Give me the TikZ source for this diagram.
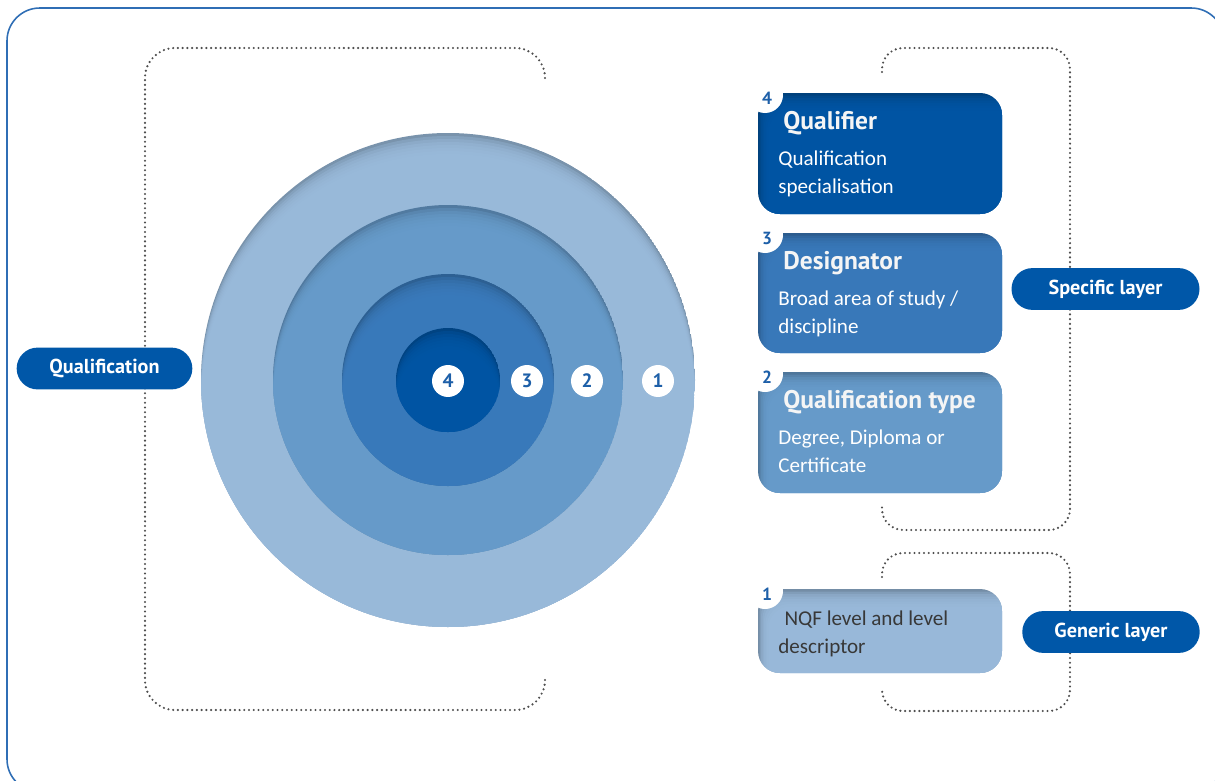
\documentclass[tikz,border=0pt]{standalone}
\usepackage{fontspec}
\setmainfont{Carlito}
\newfontfamily\headfont{PT Sans}
\usepackage{tikz}

\definecolor{ringA}{HTML}{9BBCDD}
\definecolor{ringB}{HTML}{689DCD}
\definecolor{ringC}{HTML}{3A7BBD}
\definecolor{ringD}{HTML}{0056A6}
\definecolor{pillblue}{HTML}{0057A8}
\definecolor{numblue}{HTML}{1D5FA8}
\definecolor{frameblue}{HTML}{2F6EB5}
\definecolor{dotgray}{HTML}{4E4E4E}

% disc with a soft shadow along its top edge: centre, radius, colour
\newcommand{\ringdisc}[3]{%
  \begin{scope}
    \clip #1 circle [radius=#2];
    \fill[#3!78!black] #1 circle [radius=#2];
    \foreach \k in {1,...,7}
      \fill[#3, opacity=0.35, shift={(0,3*\k)}] #1 circle [radius=#2];
  \end{scope}}

% one layer box on the right: top, bottom, colour
\newcommand{\layerbox}[3]{%
  \begin{scope}
    \clip[rounded corners=12.5pt] (758,#1) rectangle (1002,#2);
    \fill[#3!75!black] (758,#1) rectangle (1002,#2);
    \foreach \k in {1,...,7}
      \fill[#3, opacity=0.35, rounded corners=12.5pt] (758+1.5*\k,#1+2.5*\k) rectangle (1020,#2+20);
  \end{scope}
  \fill[white] (765,#1+2) circle [radius=18];}

\begin{document}
\begin{tikzpicture}[x=0.02cm, y=-0.02cm,
  dotline/.style={dotgray, line width=1.35pt, line cap=round, dash pattern=on 0pt off 2.7pt},
  pill/.style={fill=pillblue, text=white, rounded corners=11.9pt, minimum height=23.8pt,
    inner sep=0pt, font=\headfont\bfseries\fontsize{11.5}{12}\selectfont},
  ringnum/.style={circle, fill=white, text=numblue, minimum size=18.2pt, inner sep=0pt,
    font=\headfont\bfseries\fontsize{11}{11}\selectfont},
  boxnum/.style={text=numblue, inner sep=0pt, font=\headfont\bfseries\fontsize{10}{10}\selectfont},
  boxhead/.style={anchor=base west, inner sep=0pt, text=gray!8,
    font=\headfont\bfseries\fontsize{14.5}{14.5}\selectfont},
  boxtext/.style={anchor=base west, inner sep=0pt, align=left, text=white,
    font=\fontsize{12}{15.9}\selectfont}]
	\useasboundingbox (0,0) rectangle (1215,781);

	% outer frame
	\draw[frameblue, line width=0.9pt, rounded corners=18.7pt] (7,8) rectangle (1224,792);

	% dotted brackets
	\draw[dotline, rounded corners=17pt] (545,78) -- (545,48) -- (145,48) -- (145,710) -- (545,710) -- (545,680);
	\draw[dotline, rounded corners=12pt] (882,72) -- (882,48) -- (1070,48) -- (1070,530) -- (882,530) -- (882,506);
	\draw[dotline, rounded corners=12pt] (882,577) -- (882,553) -- (1070,553) -- (1070,711) -- (882,711) -- (882,688);

	% the four rings
	\ringdisc{(448,380)}{247}{ringA}
	\ringdisc{(448,380)}{175}{ringB}
	\ringdisc{(448,380)}{106}{ringC}
	\ringdisc{(448,380)}{52}{ringD}
	\node[ringnum] (r4) at (448,381) {4};
	\node[ringnum] (r3) at (527,381) {3};
	\node[ringnum] (r2) at (587,381) {2};
	\node[ringnum] (r1) at (658,381) {1};

	% layer boxes (body text sits on the baseline of its last line)
	\layerbox{93}{214}{ringD}
	\node[boxnum] (n4) at (767,98) {4};
	\node[boxhead] (qualifier) at (783,129) {Qualifier};
	\node[boxtext] (qualifiertxt) at (778,193) {Qualification\\specialisation};

	\layerbox{233}{353}{ringC}
	\node[boxnum] (n3) at (767,238) {3};
	\node[boxhead] (designator) at (783,269) {Designator};
	\node[boxtext] (designatortxt) at (778,333) {Broad area of study /\\discipline};

	\layerbox{372}{493}{ringB}
	\node[boxnum] (n2) at (767,377) {2};
	\node[boxhead] (qtype) at (783,408) {Qualification type};
	\node[boxtext] (qtypetxt) at (778,472) {Degree, Diploma or\\Certificate};

	\layerbox{589}{673}{ringA}
	\node[boxnum] (n1) at (767,594) {1};
	\node[boxtext, text=black!78] (nqftxt) at (778,653) {\hspace*{3.5pt}NQF level and level\\descriptor};

	% labels
	\node[pill, minimum width=100pt] (qual) at (104.5,368.5) {Qualification};
	\node[pill, minimum width=107pt] (specific) at (1105.5,289) {Specific layer};
	\node[pill, minimum width=101pt] (generic) at (1111,632) {Generic layer};
\end{tikzpicture}
\end{document}
